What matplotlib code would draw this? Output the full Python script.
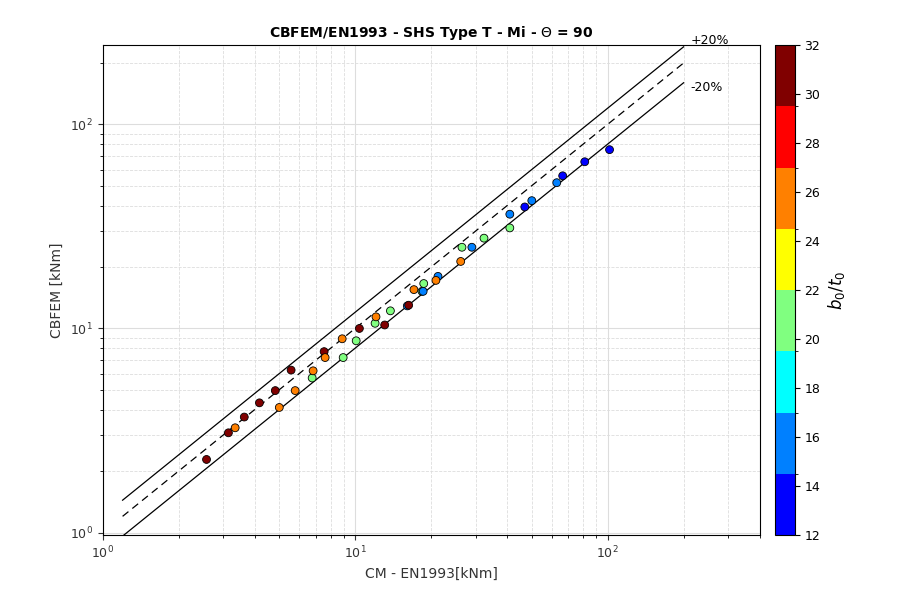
import numpy as np
import matplotlib.pyplot as plt
from matplotlib.colors import ListedColormap, BoundaryNorm

# values (CM-EN1993 vs CBFEM, kNm) and b0/t0
cm_en = [2.58, 3.15, 3.35, 3.64, 4.18, 5.01, 4.83, 5.79, 5.58, 6.76, 6.82, 7.54, 7.61,
         8.97, 8.89, 10.1, 10.4, 12.0, 12.1, 13.1, 13.8, 16.1, 16.3, 17.1, 18.4, 18.6,
         18.7, 21.3, 20.9, 26.5, 26.2, 29.0, 32.4, 41.0, 41.0, 47.0,
         50.1, 62.9, 66.4, 81.2, 101.8]
cbfem = [2.28, 3.08, 3.26, 3.68, 4.32, 4.10, 4.96, 4.96, 6.25, 5.72, 6.20, 7.70, 7.20,
         7.20, 8.90, 8.70, 10.0, 10.6, 11.4, 10.4, 12.2, 12.9, 13.0, 15.5, 15.2, 15.2,
         16.6, 18.0, 17.2, 25.0, 21.3, 25.0, 27.7, 36.3, 31.1, 39.4,
         42.3, 51.8, 56.0, 65.6, 75.2]
b0t0 = [31, 31, 25, 31, 31, 25, 31, 25, 31, 21, 25, 31, 25,
        21, 25, 21, 31, 21, 25, 31, 21, 16, 31, 25, 21, 16,
        21, 16, 25, 21, 25, 16, 21, 16, 21, 13,
        16, 16, 13, 13, 13]

jet8 = ListedColormap([[0, 0, 1], [0, .5, 1], [0, 1, 1], [.5, 1, .5],
                       [1, 1, 0], [1, .5, 0], [1, 0, 0], [.5, 0, 0]])
norm = BoundaryNorm(np.linspace(12, 32, 9), 8)

fig = plt.figure(figsize=(9, 6), dpi=100)
ax = fig.add_axes([0.114, 0.108, 0.73, 0.817])
cax = fig.add_axes([0.861, 0.108, 0.022, 0.817])

xl = np.array([1.2, 200])
ax.plot(xl, xl, 'k--', lw=0.9, dashes=(6, 4))
ax.plot(xl, 1.2 * xl, 'k-', lw=0.9)
ax.plot(xl, 0.8 * xl, 'k-', lw=0.9)
ax.text(213, 258, '+20%', fontsize=9, ha='left', va='center')
ax.text(213, 151, '-20%', fontsize=9, ha='left', va='center')

sc = ax.scatter(cm_en, cbfem, c=b0t0, cmap=jet8, norm=norm, s=32,
                edgecolors='k', linewidths=0.6, zorder=3, clip_on=False)
ax.set_xscale('log')
ax.set_yscale('log')
ax.set_xlim(1, 400)
ax.set_ylim(0.97, 245)
ax.grid(True, which='major', color='#dddddd', lw=0.8)
ax.grid(True, which='minor', color='#dddddd', lw=0.6, ls='--')
ax.set_axisbelow(True)
ax.set_xlabel('CM - EN1993[kNm]', fontsize=10, color='#333333')
ax.set_ylabel('CBFEM [kNm]', fontsize=10, color='#333333')
ax.set_title('CBFEM/EN1993 - SHS Type T - Mi - $\\Theta$ = 90', fontsize=10,
             fontweight='bold')
ax.tick_params(labelsize=9, colors='#333333')

cb = fig.colorbar(sc, cax=cax, ticks=range(12, 33, 2))
cb.set_label('$b_0/t_0$', fontsize=12, family='serif')
cb.ax.tick_params(labelsize=9)

fig.savefig('out.png')
